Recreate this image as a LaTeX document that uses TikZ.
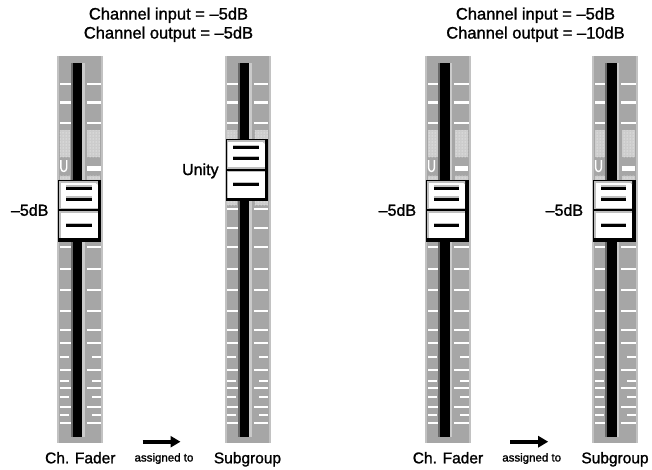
\documentclass[tikz,border=0pt]{standalone}
\usepackage{fontspec}
\setmainfont{Liberation Sans}[BoldFont={Liberation Sans}, BoldFeatures={FakeBold=1.3}]
\usetikzlibrary{patterns,arrows.meta,calc}

\definecolor{stripgray}{HTML}{A6A6A6}
\definecolor{stripedge}{HTML}{C2C2C2}
\definecolor{slotdark}{HTML}{6A6A6A}
\definecolor{slotlight}{HTML}{CACACA}
\definecolor{dotbase}{HTML}{CCCCCC}
\definecolor{knobbevel}{HTML}{BEBEBE}

\tikzset{
  toplbl/.style={font=\fontsize{16.5}{19}\selectfont\bfseries, anchor=base, inner sep=0},
  botlbl/.style={font=\fontsize{15.5}{18}\selectfont\bfseries, anchor=base, inner sep=0},
  smalllbl/.style={font=\fontsize{11.5}{13}\selectfont\bfseries, anchor=base, inner sep=0},
  sidelbl/.style={font=\fontsize{16}{18}\selectfont\bfseries, anchor=base east, inner sep=0},
  knobnode/.style={minimum width=42.7pt, minimum height=61.5pt, inner sep=0, draw=none},
  assign/.style={line width=4pt, -{Triangle[length=10pt,width=11pt]}},
  tick/.style={fill=white},
  dotzone/.style={fill=dotbase, postaction={pattern=dots, pattern color=white}},
}

% #1 left edge of the strip, #2 top of the knob, #3 name of the knob node
\newcommand\drawfader[3]{%
  \begin{scope}[shift={(#1,0)}]
    % strip with lighter side bands
    \fill[stripgray] (0,56) rectangle (46,443);
    \fill[stripedge] (0,56) rectangle (2,443);
    \fill[stripedge] (44,56) rectangle (46,443);
    % slot
    \fill[slotdark] (13.4,63) rectangle (15.4,437);
    \fill[black] (15.4,63) rectangle (24.7,437);
    \fill[slotlight] (24.7,63) rectangle (27.4,437);
    % long scale marks
    \foreach \ty in {84,102.5,123,209.3,228.3,246.7,269,290.3,311,330,343.3,370,388.3,406.7,422.7}{
      \fill[tick] (2.7,\ty-1.1) rectangle (13.4,\ty+1.1);
      \fill[tick] (29.4,\ty-1.1) rectangle (43.7,\ty+1.1);
    }
    % short scale marks
    \foreach \ty in {356.7,380.7,396.7,415}{
      \fill[tick] (2.7,\ty-1.1) rectangle (11.7,\ty+1.1);
      \fill[tick] (34.7,\ty-1.1) rectangle (43.7,\ty+1.1);
    }
    % dotted zones around unity
    \fill[dotzone] (2.5,130) rectangle (12.5,157);
    \fill[dotzone] (30,130) rectangle (43,157);
    \fill[dotzone] (2.5,175.5) rectangle (12.5,205);
    \fill[dotzone] (30,175.5) rectangle (43,205);
    % unity marks
    \draw[white, line width=1.4pt] (3.6,160) -- (3.6,168)
      .. controls (3.6,172.6) and (9.4,172.6) .. (9.4,168) -- (9.4,160);
    \fill[tick] (30,166) rectangle (43.4,170.5);
    % knob
    \fill[black] (1,#2) rectangle (43.7,#2+61.5);
    \fill[knobbevel] (2,#2+1) rectangle (40.2,#2+58.3);
    \fill[white] (3.5,#2+2.5) rectangle (40.2,#2+58.3);
    \fill[knobbevel] (36.5,#2+1) -- (40.2,#2+1) -- (40.2,#2+4.5) -- cycle;
    \fill[knobbevel] (3.5,#2+28) rectangle (40.2,#2+29.2);
    \fill[black] (2,#2+29.2) rectangle (40.2,#2+31.2);
    \fill[knobbevel] (3.5,#2+31.2) rectangle (40.2,#2+32.7);
    \foreach \by in {8,19,45.5}{
      \fill[knobbevel] (8.7,\by+#2-2.6) rectangle (34.4,\by+#2-1.5);
      \fill[black] (8.7,\by+#2-1.5) rectangle (34.4,\by+#2+1.5);
    }
    \node[knobnode] (#3) at (22.35,#2+30.75) {};
  \end{scope}}

\begin{document}
\begin{tikzpicture}[x=1pt,y=-1pt]
  \useasboundingbox (0,0) rectangle (652,469);

  \drawfader{57.3}{180}{k1}
  \drawfader{224.5}{139.3}{k2}
  \drawfader{425}{180}{k3}
  \drawfader{592}{180}{k4}

  % headings
  \node[toplbl] (h1a) at (168.5,19.5) {Channel input = –5dB};
  \node[toplbl] (h1b) at (168.5,38.5) {Channel output = –5dB};
  \node[toplbl] (h2a) at (535.5,19.5) {Channel input = –5dB};
  \node[toplbl] (h2b) at (535.5,38.5) {Channel output = –10dB};

  % knob position labels
  \node[sidelbl] (p1) at ($(k1.west)+(-9.5,5)$) {–5dB};
  \node[sidelbl] (p2) at ($(k2.west)+(-6.5,5)$) {Unity};
  \node[sidelbl] (p3) at ($(k3.west)+(-9.5,5)$) {–5dB};
  \node[sidelbl] (p4) at ($(k4.west)+(-9.5,5)$) {–5dB};

  % captions
  \node[botlbl] (c1) at (80.3,463.3) {Ch. Fader};
  \node[smalllbl] (s1) at (164,461.5) {assigned to};
  \node[botlbl] (g1) at (247.5,463.3) {Subgroup};
  \node[botlbl] (c2) at (448,463.3) {Ch. Fader};
  \node[smalllbl] (s2) at (531.7,461.5) {assigned to};
  \node[botlbl] (g2) at (615,463.3) {Subgroup};

  % assignment arrows
  \coordinate (a1s) at (142.7,441.7);
  \coordinate (a1e) at (180.5,441.7);
  \coordinate (a2s) at (510.4,441.7);
  \coordinate (a2e) at (548.2,441.7);
  \draw[assign] (a1s) -- (a1e);
  \draw[assign] (a2s) -- (a2e);
\end{tikzpicture}
\end{document}
